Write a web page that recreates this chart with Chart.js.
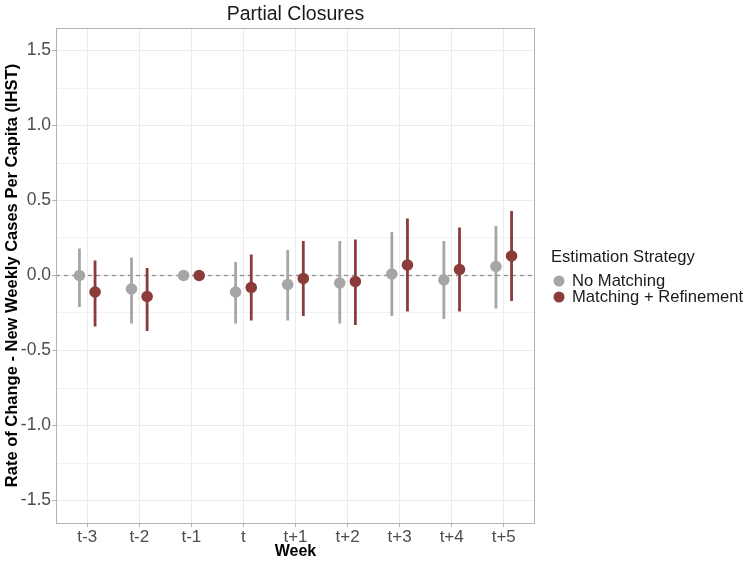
<!DOCTYPE html>
<html>
<head>
<meta charset="utf-8">
<script src="https://cdn.jsdelivr.net/npm/chart.js@4/dist/chart.umd.min.js"></script>
<style>
  html, body { margin: 0; padding: 0; background: #fff; }
  #wrap { width: 749px; height: 564px; }
</style>
</head>
<body>
<div id="wrap"><canvas id="chart" width="749" height="564"></canvas></div>
<script>
// weeks around closure
const weeks = ['t-3', 't-2', 't-1', 't', 't+1', 't+2', 't+3', 't+4', 't+5'];
const yTicks = [-1.5, -1.0, -0.5, 0.0, 0.5, 1.0, 1.5];

// No Matching
const noMatchEst  = [0.00, -0.09, 0.00, -0.11, -0.06, -0.05, 0.01, -0.03, 0.06];
const noMatchLow  = [-0.21, -0.32, null, -0.32, -0.30, -0.32, -0.27, -0.29, -0.22];
const noMatchHigh = [0.18, 0.12, null, 0.09, 0.17, 0.23, 0.29, 0.23, 0.33];

// Matching + Refinement
const refEst  = [-0.11, -0.14, 0.00, -0.08, -0.02, -0.04, 0.07, 0.04, 0.13];
const refLow  = [-0.34, -0.37, null, -0.30, -0.27, -0.33, -0.24, -0.24, -0.17];
const refHigh = [0.10, 0.05, null, 0.14, 0.23, 0.24, 0.38, 0.32, 0.43];

const FONT = '"Liberation Sans", Arial, sans-serif';
const GREY = '#a6a6a6';
const RED = '#8c3b3b';
const DODGE = 0.15;

const series = [
  { label: 'No Matching', color: GREY, est: noMatchEst, low: noMatchLow, high: noMatchHigh, shift: -DODGE },
  { label: 'Matching + Refinement', color: RED, est: refEst, low: refLow, high: refHigh, shift: DODGE }
];

const isMajor = v => Math.abs(v * 2 - Math.round(v * 2)) < 1e-6;

// error bars, zero line, panel border, title and legend
const decor = {
  id: 'decor',
  beforeDatasetsDraw(chart) {
    const { ctx, chartArea: a, scales: { x, y } } = chart;
    ctx.save();
    // dashed reference line
    const y0 = y.getPixelForValue(0);
    ctx.strokeStyle = '#8f8f8f';
    ctx.lineWidth = 1.3;
    ctx.setLineDash([4, 4]);
    ctx.beginPath();
    ctx.moveTo(a.left, y0);
    ctx.lineTo(a.right, y0);
    ctx.stroke();
    ctx.setLineDash([]);
    // error bars
    ctx.lineWidth = 2.8;
    series.forEach(s => {
      ctx.strokeStyle = s.color;
      s.est.forEach((v, i) => {
        if (s.low[i] == null) return;
        const px = x.getPixelForValue(i + s.shift);
        ctx.beginPath();
        ctx.moveTo(px, y.getPixelForValue(s.low[i]));
        ctx.lineTo(px, y.getPixelForValue(s.high[i]));
        ctx.stroke();
      });
    });
    // panel border
    ctx.strokeStyle = '#b3b3b3';
    ctx.lineWidth = 1;
    ctx.strokeRect(a.left + 0.5, a.top + 0.5, a.right - a.left - 1, a.bottom - a.top);
    ctx.restore();
  },
  afterDraw(chart) {
    const { ctx, chartArea: a } = chart;
    ctx.save();
    ctx.fillStyle = '#1a1a1a';
    ctx.font = '19.5px ' + FONT;
    ctx.textAlign = 'center';
    ctx.textBaseline = 'middle';
    ctx.fillText('Partial Closures', (a.left + a.right) / 2, 14.5);

    // legend
    ctx.textAlign = 'left';
    ctx.font = '16.6px ' + FONT;
    ctx.fillText('Estimation Strategy', 551, 257);
    series.forEach((s, i) => {
      const cy = 281 + i * 16;
      ctx.fillStyle = s.color;
      ctx.beginPath();
      ctx.arc(559, cy, 5.5, 0, Math.PI * 2);
      ctx.fill();
      ctx.fillStyle = '#1a1a1a';
      ctx.fillText(s.label, 572, cy);
    });
    ctx.restore();
  }
};

new Chart(document.getElementById('chart'), {
  type: 'scatter',
  data: {
    datasets: series.map(s => ({
      label: s.label,
      data: s.est.map((v, i) => ({ x: i + s.shift, y: v })),
      backgroundColor: s.color,
      borderWidth: 0,
      pointRadius: 5.8,
      pointHoverRadius: 5.8
    }))
  },
  options: {
    responsive: false,
    animation: false,
    layout: { padding: { top: 28, right: 214, left: 0, bottom: 0 } },
    plugins: {
      legend: { display: false },
      title: { display: false },
      tooltip: { enabled: false }
    },
    scales: {
      x: {
        type: 'linear',
        min: -0.6,
        max: weeks.length - 1 + 0.6,
        afterBuildTicks: axis => { axis.ticks = weeks.map((w, i) => ({ value: i })); },
        afterFit: axis => { axis.height = 41; },
        grid: { color: '#ebebeb', lineWidth: 1, tickLength: 4, tickColor: '#b3b3b3' },
        border: { display: false },
        ticks: {
          autoSkip: false,
          maxRotation: 0,
          padding: 0,
          color: '#4d4d4d',
          font: { family: FONT, size: 17 },
          callback: v => weeks[v]
        },
        title: {
          display: true,
          text: 'Week',
          color: '#000',
          font: { family: FONT, size: 16, weight: 'bold' },
          padding: { top: 0, bottom: 3 }
        }
      },
      y: {
        min: -1.65,
        max: 1.65,
        afterBuildTicks: axis => {
          const t = [];
          for (let k = -6; k <= 6; k++) t.push({ value: k * 0.25 });
          axis.ticks = t;
        },
        afterFit: axis => { axis.width = 56; },
        grid: {
          color: c => (c.tick && isMajor(c.tick.value)) ? '#ebebeb' : '#f2f2f2',
          tickColor: c => (c.tick && isMajor(c.tick.value)) ? '#b3b3b3' : 'rgba(0,0,0,0)',
          tickLength: 4
        },
        border: { display: false },
        ticks: {
          autoSkip: false,
          padding: 1,
          color: '#4d4d4d',
          font: { family: FONT, size: 17.5 },
          callback: v => yTicks.some(t => Math.abs(t - v) < 1e-6) ? v.toFixed(1) : ''
        },
        title: {
          display: true,
          text: 'Rate of Change - New Weekly Cases Per Capita (IHST)',
          color: '#000',
          font: { family: FONT, size: 16.5, weight: 'bold' },
          padding: { top: 3, bottom: 0 }
        }
      }
    }
  },
  plugins: [decor]
});
</script>
</body>
</html>
